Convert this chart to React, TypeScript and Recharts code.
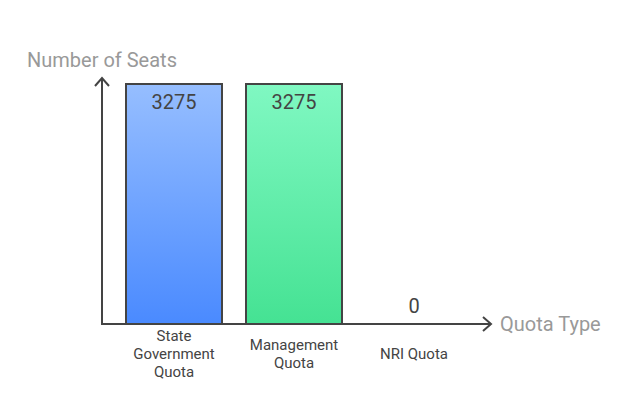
import React from 'react';
import { ComposedChart, Bar, Scatter, XAxis, YAxis, Cell, usePlotArea } from 'recharts';

const categories = ['State Government Quota', 'Management Quota', 'NRI Quota'];
const seats = [3275, 3275, 0];
const tickLines = [['State', 'Government', 'Quota'], ['Management', 'Quota'], ['NRI Quota']];
const gradients = [
  ['#96BEFF', '#4A8AFF'],
  ['#80F8C2', '#45E293'],
  ['#80F8C2', '#45E293'],
];
const yTitle = 'Number of Seats';
const xTitle = 'Quota Type';

const data = categories.map((c, i) => ({ name: c, value: seats[i], idx: i }));
const FONT = 'Roboto, "Noto Sans", sans-serif';

const Arrows = () => {
  const p = usePlotArea();
  if (!p) return null;
  const l = p.x, t = p.y, r = p.x + p.width, b = p.y + p.height;
  return (
    <g>
      <line x1={l} y1={t} x2={l} y2={b + 1} stroke="#444" strokeWidth={2} />
      <path d={`M${l - 7},${t + 8} L${l},${t} L${l + 7},${t + 8}`} fill="none" stroke="#444" strokeWidth={2} />
      <path d={`M${r - 8},${b - 7} L${r},${b} L${r - 8},${b + 7}`} fill="none" stroke="#444" strokeWidth={2} />
      <text x={27} y={t - 11} fontSize={20} fill="#999" fontFamily={FONT}>{yTitle}</text>
      <text x={r + 9} y={b + 7} fontSize={20} fill="#999" fontFamily={FONT}>{xTitle}</text>
    </g>
  );
};

const Tick = (props: any) => {
  const { x, y, index } = props;
  const lines = tickLines[index] || [];
  const lh = 18;
  const cy = y + 22;
  const start = cy - ((lines.length - 1) * lh) / 2;
  return (
    <text textAnchor="middle" fontSize={15} fill="#444" fontFamily={FONT}>
      {lines.map((ln, i) => (
        <tspan key={i} x={x} y={start + i * lh + 5}>{ln}</tspan>
      ))}
    </text>
  );
};

const ValueShape = (props: any) => {
  const { cx, cy, payload } = props;
  const v = payload?.value;
  const ty = v > 0 ? cy + 25 : cy - 11;
  return (
    <text x={cx} y={ty} textAnchor="middle" fontSize={20} fill="#444" fontFamily={FONT}>{v}</text>
  );
};

export default function App() {
  return (
    <div style={{ position: 'absolute', left: 0, top: 0, width: 630, height: 396, background: '#fff' }}>
      <ComposedChart
        width={630}
        height={396}
        data={data}
        margin={{ top: 78, right: 139, bottom: 0, left: 102 }}
        barCategoryGap="10%"
      >
        <defs>
          {gradients.map((g, i) => (
            <linearGradient key={i} id={`grad${i}`} x1="0" y1="0" x2="0" y2="1">
              <stop offset="0%" stopColor={g[0]} />
              <stop offset="100%" stopColor={g[1]} />
            </linearGradient>
          ))}
        </defs>
        <XAxis
          dataKey="name"
          height={72}
          padding={{ left: 12, right: 17 }}
          axisLine={{ stroke: '#444', strokeWidth: 2 }}
          tickLine={false}
          tick={<Tick />}
          interval={0}
        />
        <YAxis width={0} hide domain={[0, 3275]} padding={{ top: 6 }} />
        <Bar dataKey="value" isAnimationActive={false} stroke="#444" strokeWidth={2}>
          {data.map((d, i) => (
            <Cell key={i} fill={`url(#grad${i})`} />
          ))}
        </Bar>
        <Scatter dataKey="value" isAnimationActive={false} shape={<ValueShape />} />
        <Arrows />
      </ComposedChart>
    </div>
  );
}
